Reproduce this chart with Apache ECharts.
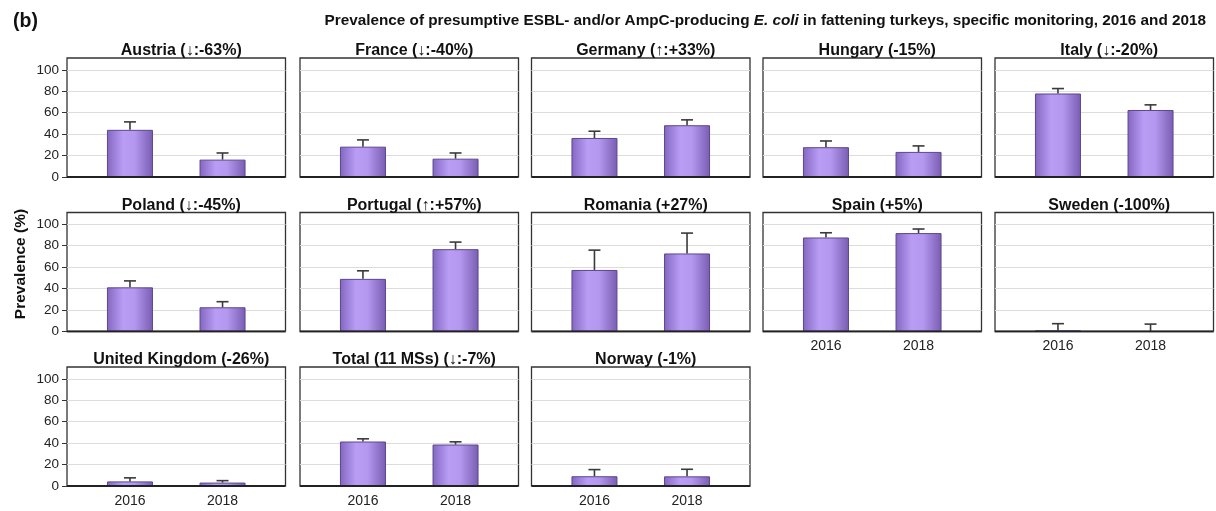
<!DOCTYPE html>
<html>
<head>
<meta charset="utf-8">
<script src="https://cdn.jsdelivr.net/npm/echarts@6/dist/echarts.min.js"></script>
<style>
html,body{margin:0;padding:0;background:#fff;}
#chart{width:1216px;height:511px;}
</style>
</head>
<body>
<div id="chart"></div>
<script>
const categories = ['2016', '2018'];
const panelTitles = [
  'Austria (\u2193:-63%)', 'France (\u2193:-40%)', 'Germany (\u2191:+33%)', 'Hungary (-15%)', 'Italy (\u2193:-20%)',
  'Poland (\u2193:-45%)', 'Portugal (\u2191:+57%)', 'Romania (+27%)', 'Spain (+5%)', 'Sweden (-100%)',
  'United Kingdom (-26%)', 'Total (11 MSs) (\u2193:-7%)', 'Norway (-1%)'
];
const prev2016 = [44, 28.3, 36.4, 27.8, 77.9, 41.2, 49.1, 57.4, 87.7, 1.0, 4.3, 41.5, 9.1];
const prev2018 = [16.2, 17.1, 48.3, 23.4, 62.5, 22.6, 76.8, 72.8, 91.8, 0, 3.2, 38.7, 9.0];
const upper2016 = [51.4, 34.6, 42.7, 33.6, 82.5, 47.2, 56.6, 75.9, 92.1, 7.3, 7.6, 44.0, 15.3];
const upper2018 = [22.4, 22.4, 53.3, 29.0, 67.3, 27.8, 83.4, 91.8, 95.6, 6.9, 5.0, 41.2, 15.6];
const yTicks = [0, 20, 40, 60, 80, 100];
const yAxisTitle = 'Prevalence (%)';

const FONT = "'Liberation Sans', Arial, Helvetica, sans-serif";
const colLefts = [67, 300, 531.5, 763, 995];
const rowTops = [58, 212.5, 367];
const panelW = 218.5, panelH = 119;
const bottomPanels = [8, 9, 10, 11, 12];

const chart = echarts.init(document.getElementById('chart'), null, {renderer: 'canvas'});

const grids = [], xAxes = [], yAxes = [], series = [], titles = [];

titles.push({
  text: '(b)', left: 8, top: 7,
  textStyle: {fontFamily: FONT, fontSize: 19.5, fontWeight: 'bold', color: '#111'}
});
titles.push({
  text: '{b|Prevalence of presumptive ESBL- and/or AmpC-producing }{i|E. coli}{b| in fattening turkeys, specific monitoring, 2016 and 2018}',
  right: 5, top: 8,
  textStyle: {
    rich: {
      b: {fontFamily: FONT, fontSize: 15.3, fontWeight: 'bold', color: '#111'},
      i: {fontFamily: FONT, fontSize: 15.3, fontWeight: 'bold', fontStyle: 'italic', color: '#111'}
    }
  }
});

const barGradient = new echarts.graphic.LinearGradient(0, 0, 1, 0, [
  {offset: 0, color: '#8266c0'},
  {offset: 0.35, color: '#b99df5'},
  {offset: 0.6, color: '#b497ef'},
  {offset: 1, color: '#785db2'}
]);

panelTitles.forEach((t, i) => {
  const row = Math.floor(i / 5), col = i % 5;
  const left = colLefts[col], top = rowTops[row];
  grids.push({
    left: left, top: top, width: panelW, height: panelH,
    show: true, borderColor: '#333', borderWidth: 1.3, backgroundColor: '#fff'
  });
  titles.push({
    text: t, left: left + panelW / 2, top: top - 20, textAlign: 'center',
    textStyle: {fontFamily: FONT, fontSize: 16, fontWeight: 'bold', color: '#111'}
  });
  const showX = bottomPanels.includes(i);
  xAxes.push({
    type: 'value', gridIndex: i, min: -0.68, max: 1.68,
    axisLine: {show: false, onZero: false},
    axisTick: {show: false},
    splitLine: {show: false},
    axisLabel: {
      show: showX, customValues: [0, 1], margin: 8,
      formatter: v => categories[Math.round(v)],
      fontFamily: FONT, fontSize: 14, color: '#222'
    }
  });
  const showY = col === 0;
  yAxes.push({
    type: 'value', gridIndex: i, min: 0, max: 111, interval: 20,
    axisLine: {show: false, onZero: false},
    axisTick: {show: showY, length: 5, customValues: yTicks, lineStyle: {color: '#333'}},
    axisLabel: {show: showY, customValues: yTicks, margin: 8, fontFamily: FONT, fontSize: 13.5, color: '#222'},
    splitLine: {show: true, lineStyle: {color: '#dcdcdc', width: 1}}
  });
  series.push({
    type: 'bar', xAxisIndex: i, yAxisIndex: i, barWidth: 46,
    data: [[0, prev2016[i]], [1, prev2018[i]]],
    itemStyle: {color: barGradient, borderColor: '#5b478f', borderWidth: 1},
    z: 3, silent: true
  });
  series.push({
    type: 'custom', xAxisIndex: i, yAxisIndex: i, z: 4, silent: true,
    data: [[0, prev2016[i], upper2016[i]], [1, prev2018[i], upper2018[i]]],
    renderItem: (params, api) => {
      const x = api.value(0);
      const p0 = api.coord([x, api.value(1)]);
      const p1 = api.coord([x, api.value(2)]);
      const style = {stroke: '#3a3a3a', lineWidth: 1.6};
      return {
        type: 'group',
        children: [
          {type: 'line', shape: {x1: p0[0], y1: p0[1], x2: p1[0], y2: p1[1]}, style: style},
          {type: 'line', shape: {x1: p1[0] - 6, y1: p1[1], x2: p1[0] + 6, y2: p1[1]}, style: style}
        ]
      };
    }
  });
  series.push({
    type: 'line', xAxisIndex: i, yAxisIndex: i, z: 5, silent: true,
    data: [[-0.68, 0], [1.68, 0]], symbol: 'none',
    lineStyle: {color: '#222', width: 2.2}
  });
});

chart.setOption({
  animation: false,
  backgroundColor: '#fff',
  title: titles,
  grid: grids,
  xAxis: xAxes,
  yAxis: yAxes,
  series: series,
  graphic: [{
    type: 'text', x: 21, y: 264, rotation: Math.PI / 2,
    style: {
      text: yAxisTitle, align: 'center', verticalAlign: 'middle',
      font: "bold 15.5px 'Liberation Sans', Arial, sans-serif", fill: '#111'
    }
  }]
});
</script>
</body>
</html>
